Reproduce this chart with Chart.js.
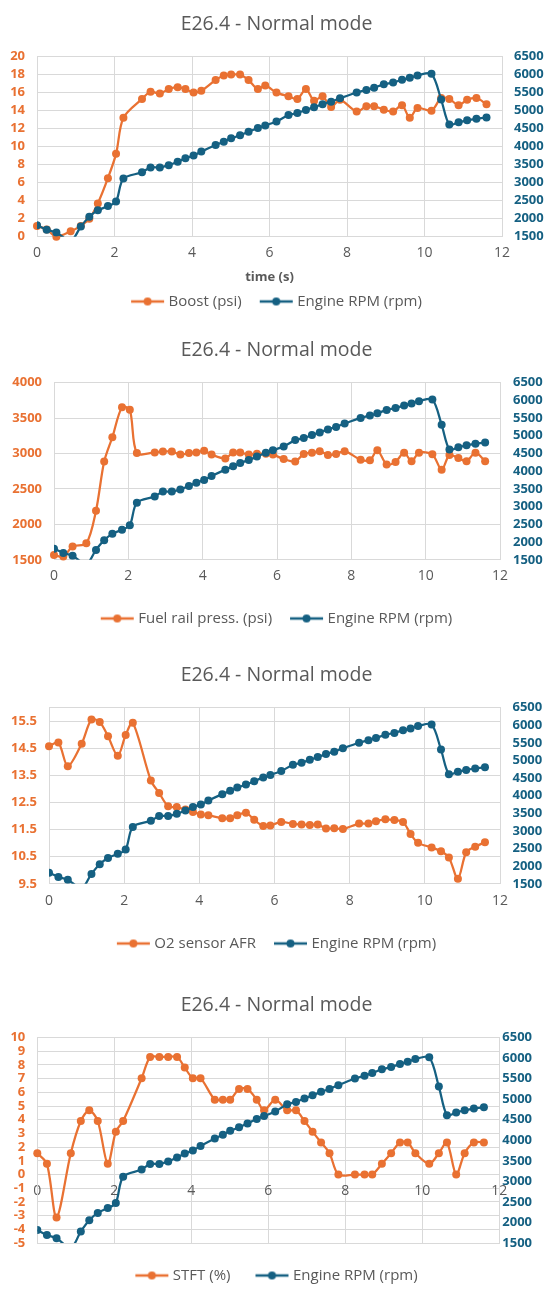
<!DOCTYPE html>
<html>
<head>
<meta charset="utf-8">
<script src="https://cdn.jsdelivr.net/npm/chart.js@4.4.1/dist/chart.umd.min.js"></script>
<style>
  body { margin: 0; background: #fff; }
  .box { position: absolute; left: 0; width: 553px; }
</style>
</head>
<body>
<div class="box" style="top:0;height:319px"><canvas id="boostChart"></canvas></div>
<div class="box" style="top:326px;height:310px"><canvas id="fuelChart"></canvas></div>
<div class="box" style="top:651px;height:310px"><canvas id="afrChart"></canvas></div>
<div class="box" style="top:981px;height:312px"><canvas id="stftChart"></canvas></div>
<script>
// log samples (time in seconds)
const time = [0, 0.25, 0.5, 0.87, 1.13, 1.35, 1.57, 1.83, 2.04, 2.23, 2.71, 2.93, 3.17, 3.40, 3.63, 3.83,
    4.04, 4.24, 4.61, 4.82, 5.01, 5.24, 5.46, 5.70, 5.89, 6.18, 6.49, 6.72, 6.94, 7.15, 7.37, 7.59,
    7.82, 8.25, 8.50, 8.70, 8.95, 9.19, 9.42, 9.62, 9.82, 10.18, 10.43, 10.64, 10.88, 11.10, 11.34, 11.60];

const engineRpm = [1815, 1695, 1615, 1380, 1780, 2055, 2232, 2350, 2475, 3113, 3287, 3424, 3424, 3486, 3580, 3677,
    3752, 3862, 4044, 4137, 4230, 4315, 4412, 4519, 4590, 4700, 4877, 4935, 5019, 5095, 5180, 5250,
    5343, 5503, 5574, 5636, 5729, 5782, 5857, 5910, 5977, 6021, 5308, 4612, 4678, 4732, 4772, 4807];

const boostPsi = [1.2, 0.8, 0.0, 0.6, 1.2, 2.0, 3.7, 6.5, 9.2, 13.2, 15.3, 16.1, 15.9, 16.4, 16.6, 16.4,
    16.0, 16.2, 17.4, 17.9, 18.0, 18.0, 17.4, 16.4, 16.8, 16.0, 15.6, 15.3, 16.4, 15.1, 15.6, 14.4,
    15.2, 13.9, 14.5, 14.5, 14.1, 13.9, 14.6, 13.2, 14.3, 14.0, 15.4, 15.3, 14.6, 15.2, 15.4, 14.7];

const fuelRailPsi = [1567, 1545, 1687, 1732, 2191, 2886, 3229, 3652, 3617, 3006, 3015, 3028, 3028, 2984, 3006, 3015,
    3037, 2984, 2930, 3015, 3015, 2984, 2997, 2997, 2984, 2921, 2886, 2993, 3011, 3033, 2979, 2993,
    3033, 2913, 2904, 3046, 2846, 2881, 3011, 2890, 3011, 2988, 2770, 2979, 2935, 2890, 3011, 2890];

const o2Afr = [14.57, 14.71, 13.84, 14.67, 15.56, 15.47, 14.94, 14.22, 14.99, 15.44, 13.31, 12.85, 12.36, 12.33, 12.24, 12.15,
    12.06, 12.03, 11.92, 11.92, 12.03, 12.12, 11.86, 11.63, 11.65, 11.78, 11.71, 11.69, 11.67, 11.69, 11.54, 11.55,
    11.52, 11.72, 11.72, 11.81, 11.88, 11.85, 11.78, 11.34, 11.01, 10.84, 10.70, 10.47, 9.69, 10.66, 10.87, 11.03];

const stftPct = [1.56, 0.78, -3.13, 1.56, 3.91, 4.69, 3.91, 0.78, 3.13, 3.91, 7.03, 8.59, 8.59, 8.59, 8.59, 7.81,
    7.03, 7.03, 5.47, 5.47, 5.47, 6.25, 6.25, 5.47, 4.69, 5.47, 4.69, 4.69, 3.91, 3.13, 2.34, 1.56,
    0, 0, 0, 0, 0.78, 1.56, 2.34, 2.34, 1.56, 0.78, 1.56, 2.34, 0, 1.56, 2.34, 2.34];

const chartTitle = "E26.4 - Normal mode";
const rpmLabel = "Engine RPM (rpm)";
const afrTicks = [9.5, 10.5, 11.5, 12.5, 13.5, 14.5, 15.5, 16];

const ORANGE = "#E97132";
const BLUE = "#156082";
const GRID = "#D9D9D9";
const GREY = "#595959";

Chart.defaults.font.family = "'Open Sans', sans-serif";
Chart.defaults.color = GREY;

// little line-with-dot marker for the legend
function makeMarker(color) {
    const c = document.createElement("canvas");
    c.width = 40;
    c.height = 12;
    const g = c.getContext("2d");
    g.strokeStyle = color;
    g.lineWidth = 2.5;
    g.beginPath();
    g.moveTo(5, 6);
    g.lineTo(38, 6);
    g.stroke();
    g.fillStyle = color;
    g.beginPath();
    g.arc(21.5, 6, 4, 0, Math.PI * 2);
    g.fill();
    return c;
}
const markers = [makeMarker(ORANGE), makeMarker(BLUE)];

function points(values) {
    return time.map((t, i) => ({ x: t, y: values[i] }));
}

function drawChart(id, opt) {
    const ctx = document.getElementById(id).getContext("2d");
    return new Chart(ctx, {
        type: "line",
        data: {
            datasets: [{
                label: opt.label,
                data: points(opt.values),
                yAxisID: "y",
                borderColor: ORANGE,
                backgroundColor: ORANGE,
                borderWidth: 2.25,
                pointRadius: 4,
                pointBorderWidth: 0,
                tension: 0.3,
                clip: false,
                order: 1
            }, {
                label: rpmLabel,
                data: points(engineRpm),
                yAxisID: "y1",
                borderColor: BLUE,
                backgroundColor: BLUE,
                borderWidth: 2.25,
                pointRadius: 4,
                pointBorderWidth: 0,
                tension: 0.3,
                order: 0
            }]
        },
        options: {
            responsive: true,
            maintainAspectRatio: false,
            animation: false,
            layout: { padding: 0 },
            plugins: {
                tooltip: { enabled: false },
                title: {
                    display: true,
                    text: chartTitle,
                    color: GREY,
                    font: { size: 19.5, weight: "normal" },
                    padding: { top: 12.6, bottom: 20.6 }
                },
                legend: {
                    position: "bottom",
                    labels: {
                        usePointStyle: true,
                        pointStyleWidth: 30,
                        boxHeight: 12,
                        padding: opt.legendPad,
                        color: GREY,
                        font: { size: 15 },
                        generateLabels: (chart) => {
                            const items = Chart.defaults.plugins.legend.labels.generateLabels(chart);
                            items.sort((a, b) => a.datasetIndex - b.datasetIndex);
                            items.forEach(it => { it.pointStyle = markers[it.datasetIndex]; });
                            return items;
                        }
                    }
                }
            },
            scales: {
                x: {
                    type: "linear",
                    position: opt.xPos || "bottom",
                    min: 0,
                    max: 12,
                    ticks: { stepSize: 2, autoSkip: false, maxRotation: 0, padding: opt.xPad, color: GREY, font: { size: 14 } },
                    grid: { color: GRID, drawTicks: false },
                    border: { color: GRID },
                    title: opt.xTitle ? {
                        display: true,
                        text: opt.xTitle,
                        color: GREY,
                        font: { size: 13, weight: "bold" },
                        padding: { top: 0, bottom: -9.3 }
                    } : { display: false }
                },
                y: {
                    position: "left",
                    min: opt.yMin,
                    max: opt.yMax,
                    afterFit: s => { s.width = opt.leftW; },
                    afterBuildTicks: opt.yTicks ? s => { s.ticks = opt.yTicks.map(v => ({ value: v })); } : undefined,
                    ticks: {
                        stepSize: opt.yStep,
                        autoSkip: false,
                        padding: 12,
                        color: ORANGE,
                        font: { size: 13, weight: "bold" },
                        callback: opt.yFmt || (v => String(v))
                    },
                    grid: { color: GRID, drawTicks: false },
                    border: { color: GRID }
                },
                y1: {
                    position: "right",
                    min: 1500,
                    max: 6500,
                    afterFit: s => { s.width = opt.rightW; },
                    ticks: {
                        stepSize: 500,
                        autoSkip: false,
                        padding: opt.rightPad,
                        color: BLUE,
                        font: { size: 13, weight: "bold" },
                        callback: v => String(v)
                    },
                    grid: { drawOnChartArea: false, drawTicks: false },
                    border: { color: GRID }
                }
            }
        }
    });
}

document.addEventListener("DOMContentLoaded", function () {
    drawChart("boostChart", {
        label: "Boost (psi)", values: boostPsi,
        yMin: 0, yMax: 20, yStep: 2,
        leftW: 37, rightW: 51, rightPad: 12,
        xPad: 8.1, xTitle: "time (s)", legendPad: 18
    });
    drawChart("fuelChart", {
        label: "Fuel rail press. (psi)", values: fuelRailPsi,
        yMin: 1500, yMax: 4000, yStep: 500,
        leftW: 54, rightW: 53, rightPad: 13,
        xPad: 8.2, legendPad: 18
    });
    drawChart("afrChart", {
        label: "O2 sensor AFR", values: o2Afr,
        yMin: 9.5, yMax: 16, yTicks: afrTicks,
        yFmt: v => (v === 16 ? "" : v.toFixed(1)),
        leftW: 49, rightW: 53, rightPad: 12.5,
        xPad: 8.7, legendPad: 18
    });
    drawChart("stftChart", {
        label: "STFT (%)", values: stftPct,
        yMin: -5, yMax: 10, yStep: 1,
        leftW: 37.3, rightW: 53.7, rightPad: 3,
        xPos: { y: 0 }, xPad: 8, legendPad: 25
    });
});
</script>
</body>
</html>
